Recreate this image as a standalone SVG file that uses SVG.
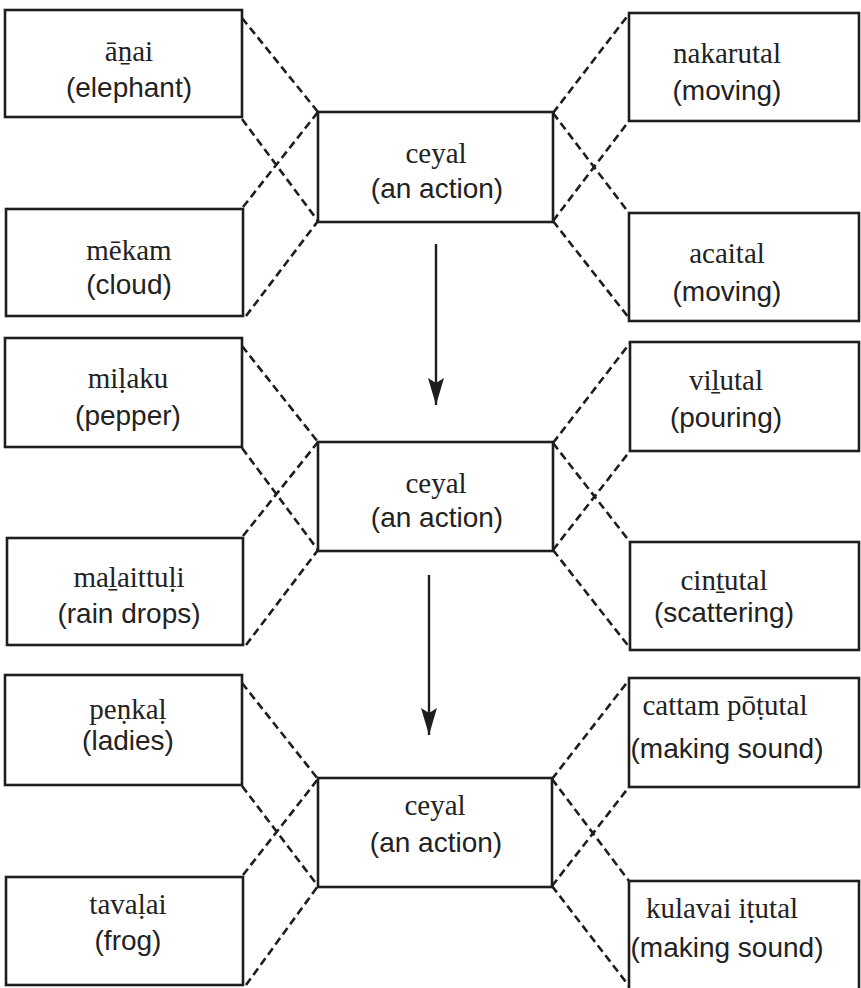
<svg xmlns="http://www.w3.org/2000/svg" width="861" height="988" viewBox="0 0 861 988">
<style>
.box{fill:#fff;stroke:#1e1e1e;stroke-width:2.6}
.dash{fill:none;stroke:#1e1e1e;stroke-width:2.6;stroke-dasharray:8 4.5}
.arrow{fill:none;stroke:#1e1e1e;stroke-width:2.4}
.t1{font-family:"Liberation Serif","Times New Roman",serif;font-size:29px;fill:#222;text-anchor:middle}
.t2{font-family:"Liberation Sans",Arial,sans-serif;font-size:28px;fill:#222;text-anchor:middle}
</style>
<defs>
<marker id="ah" markerUnits="userSpaceOnUse" markerWidth="28" markerHeight="16" viewBox="0 0 28 16" refX="27" refY="8" orient="auto">
<path d="M0,0 L27,8 L0,16 L5,8 Z" fill="#1e1e1e"/>
</marker>
</defs>
<rect width="861" height="988" fill="#fff"/>
<g id="connectors">
<line class="dash" x1="242" y1="18" x2="318" y2="112"/>
<line class="dash" x1="242" y1="119" x2="318" y2="221"/>
<line class="dash" x1="243" y1="207" x2="318" y2="112"/>
<line class="dash" x1="246" y1="316" x2="318" y2="221"/>
<line class="dash" x1="553" y1="113" x2="629" y2="14"/>
<line class="dash" x1="553" y1="113" x2="629" y2="213"/>
<line class="dash" x1="553" y1="221" x2="629" y2="121"/>
<line class="dash" x1="553" y1="221" x2="629" y2="318"/>
<line class="dash" x1="242" y1="346" x2="318" y2="442"/>
<line class="dash" x1="242" y1="448" x2="318" y2="550"/>
<line class="dash" x1="243" y1="536" x2="318" y2="442"/>
<line class="dash" x1="246" y1="645" x2="318" y2="550"/>
<line class="dash" x1="553" y1="443" x2="630" y2="343"/>
<line class="dash" x1="553" y1="443" x2="630" y2="542"/>
<line class="dash" x1="553" y1="550" x2="630" y2="451"/>
<line class="dash" x1="553" y1="550" x2="630" y2="648"/>
<line class="dash" x1="242" y1="683" x2="318" y2="779"/>
<line class="dash" x1="242" y1="786" x2="318" y2="886"/>
<line class="dash" x1="243" y1="875" x2="318" y2="779"/>
<line class="dash" x1="246" y1="985" x2="318" y2="886"/>
<line class="dash" x1="552" y1="779" x2="629" y2="680"/>
<line class="dash" x1="552" y1="779" x2="629" y2="881"/>
<line class="dash" x1="552" y1="886" x2="629" y2="787"/>
<line class="dash" x1="552" y1="886" x2="629" y2="986"/>
<line class="arrow" x1="436" y1="244" x2="436" y2="405" marker-end="url(#ah)"/>
<line class="arrow" x1="429" y1="575" x2="429" y2="735" marker-end="url(#ah)"/>
</g>
<g id="anai">
<rect class="box" x="5" y="10" width="237" height="107"/>
<text class="t1" x="129" y="61">āṉai</text>
<text class="t2" x="129" y="97">(elephant)</text>
</g>
<g id="mekam">
<rect class="box" x="6" y="209" width="237" height="107"/>
<text class="t1" x="129" y="260">mēkam</text>
<text class="t2" x="129" y="294">(cloud)</text>
</g>
<g id="ceyal1">
<rect class="box" x="318" y="112" width="235" height="110"/>
<text class="t1" x="436" y="163">ceyal</text>
<text class="t2" x="437" y="198">(an action)</text>
</g>
<g id="nakarutal">
<rect class="box" x="629" y="13" width="230" height="108"/>
<text class="t1" x="727" y="63">nakarutal</text>
<text class="t2" x="727" y="100">(moving)</text>
</g>
<g id="acaital">
<rect class="box" x="629" y="213" width="230" height="108"/>
<text class="t1" x="727" y="263">acaital</text>
<text class="t2" x="727" y="301">(moving)</text>
</g>
<g id="milaku">
<rect class="box" x="5" y="338" width="237" height="109"/>
<text class="t1" x="128" y="388">miḷaku</text>
<text class="t2" x="128" y="425">(pepper)</text>
</g>
<g id="malaittuli">
<rect class="box" x="7" y="538" width="236" height="107"/>
<text class="t1" x="129" y="587">maḻaittuḷi</text>
<text class="t2" x="129" y="623">(rain drops)</text>
</g>
<g id="ceyal2">
<rect class="box" x="318" y="442" width="235" height="109"/>
<text class="t1" x="436" y="493">ceyal</text>
<text class="t2" x="437" y="527">(an action)</text>
</g>
<g id="vilutal">
<rect class="box" x="630" y="342" width="229" height="109"/>
<text class="t1" x="726" y="390">viḻutal</text>
<text class="t2" x="726" y="427">(pouring)</text>
</g>
<g id="cintutal">
<rect class="box" x="630" y="542" width="229" height="108"/>
<text class="t1" x="724" y="590">cinṯutal</text>
<text class="t2" x="724" y="622">(scattering)</text>
</g>
<g id="penkal">
<rect class="box" x="5" y="675" width="237" height="110"/>
<text class="t1" x="128" y="719">peṇkaḷ</text>
<text class="t2" x="128" y="750">(ladies)</text>
</g>
<g id="tavalai">
<rect class="box" x="6" y="877" width="237" height="108"/>
<text class="t1" x="128" y="914">tavaḷai</text>
<text class="t2" x="128" y="950">(frog)</text>
</g>
<g id="ceyal3">
<rect class="box" x="318" y="778" width="234" height="109"/>
<text class="t1" x="435" y="815">ceyal</text>
<text class="t2" x="436" y="852">(an action)</text>
</g>
<g id="cattam">
<rect class="box" x="629" y="678" width="230" height="109"/>
<text class="t1" x="725" y="715">cattam pōṭutal</text>
<text class="t2" x="727" y="758">(making sound)</text>
</g>
<g id="kulavai">
<rect class="box" x="629" y="881" width="230" height="112"/>
<text class="t1" x="722" y="918">kulavai iṭutal</text>
<text class="t2" x="727" y="957">(making sound)</text>
</g>
</svg>
